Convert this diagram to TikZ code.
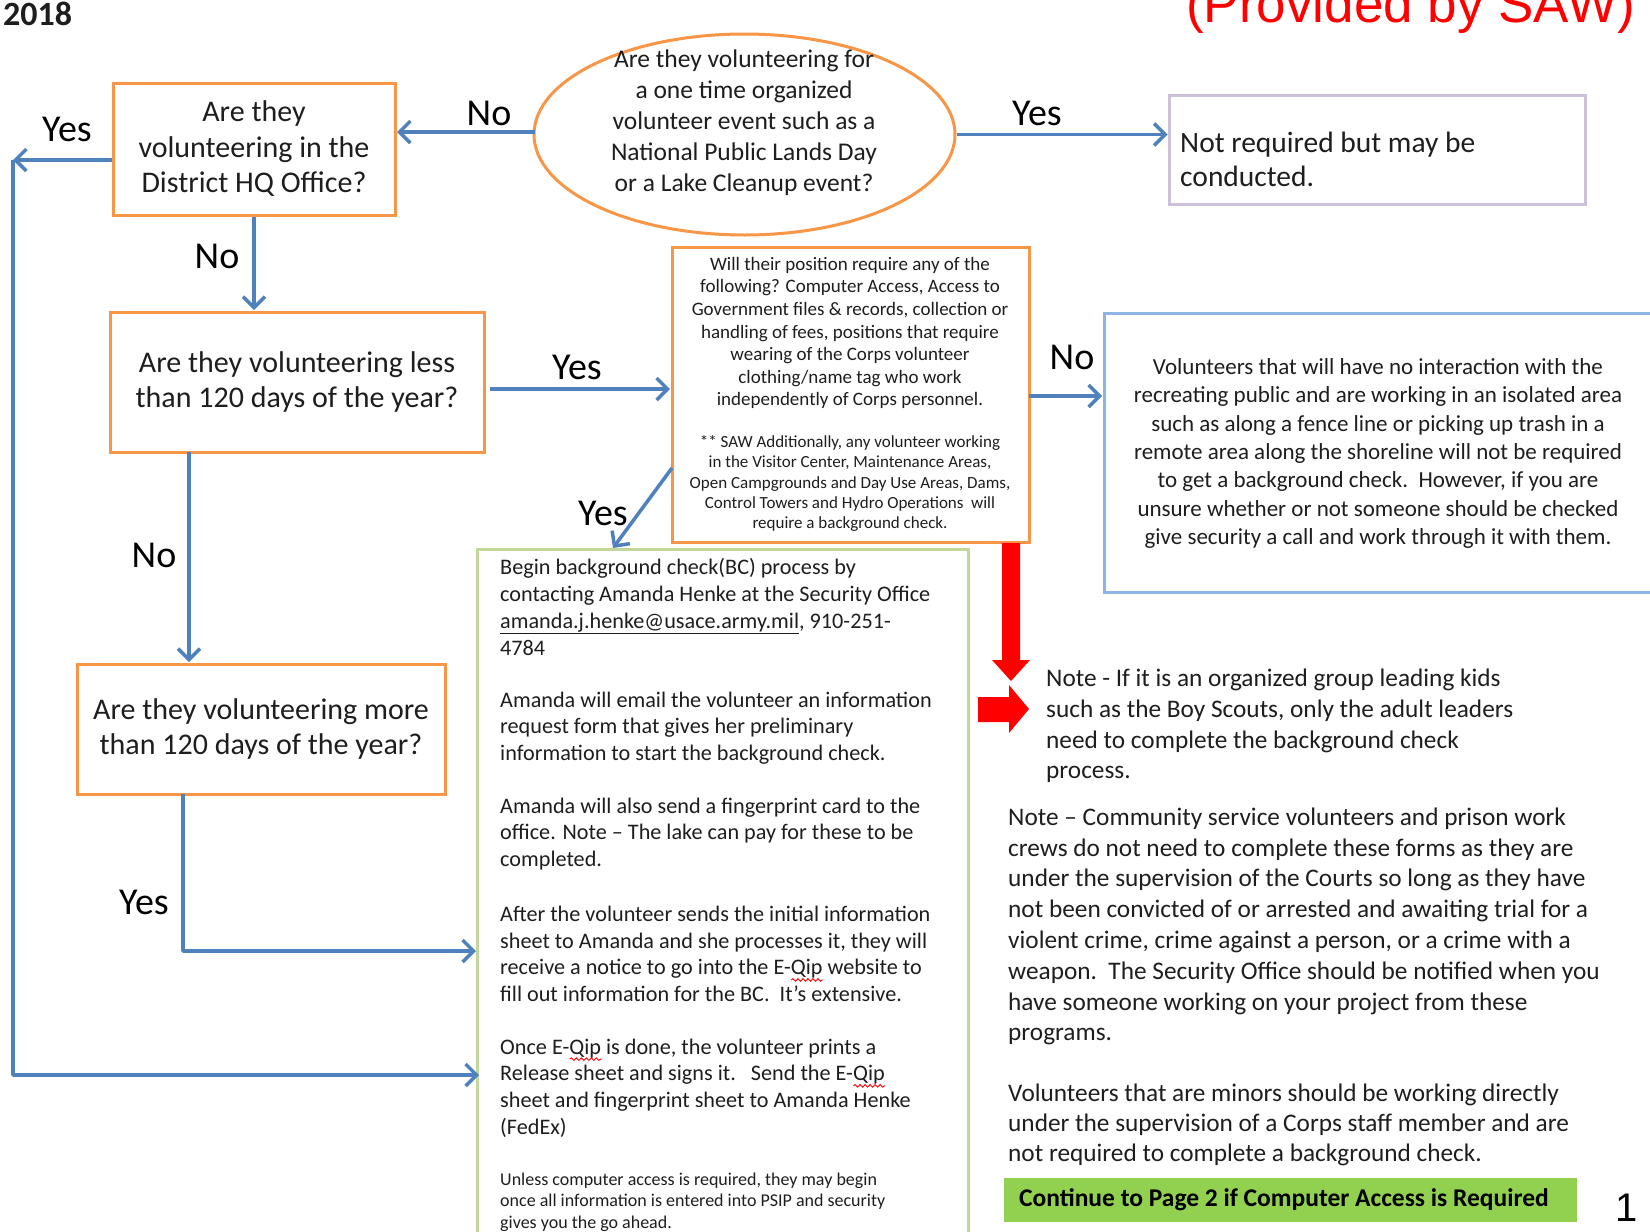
\documentclass[tikz,border=0pt]{standalone}
\usepackage{fontspec}
\setmainfont{Carlito}
\newfontfamily\arialf{Liberation Sans}
\usetikzlibrary{arrows.meta,shapes.geometric,decorations.pathmorphing}
\definecolor{orng}{HTML}{F79646}
\definecolor{blu}{HTML}{4F81BD}
\definecolor{lblu}{HTML}{8EB4E3}
\definecolor{grn}{HTML}{C3D69B}
\definecolor{purp}{HTML}{CCC0DA}
\definecolor{bann}{HTML}{92D050}
\definecolor{txt}{HTML}{1E1E1E}
\newsavebox\sqbox
\newcommand\sq[1]{\sbox\sqbox{#1}\rlap{\tikz[baseline=0pt]\draw[red,line width=0.9pt,decorate,decoration={snake,amplitude=1.3pt,segment length=5pt}] (0pt,-5pt) -- (\wd\sqbox,-5pt);}\usebox\sqbox}
\begin{document}
\begin{tikzpicture}[x=1pt,y=-1pt,
  obox/.style={draw=orng,line width=3pt,rectangle,inner sep=0pt,align=center,text=txt},
  arr/.style={draw=blu,line width=3.5pt,line join=round,-{Straight Barb[length=11pt,width=22pt]}},
  lbl/.style={font=\fontsize{38}{40}\selectfont,text=black,inner sep=0pt},
  tx/.style={inner sep=0pt,text=txt},
  redarrow/.style={fill=red,draw=none}]
\useasboundingbox (0,0) rectangle (1650,1232);
\fill[white] (0,0) rectangle (1650,1232);

% headers
\node[tx,anchor=base west,font=\bfseries\fontsize{34}{36}\selectfont] (year) at (3,25) {2018};
\node[inner sep=0pt,anchor=base west,text=red,font=\arialf\fontsize{53}{55}\selectfont] (prov) at (1186,22) {(Provided by SAW)};

% shapes
\node[draw=orng,line width=3pt,ellipse,minimum width=421pt,minimum height=201pt,inner sep=0pt] (ell) at (744.5,134.5) {};
\node[tx,align=center,font=\fontsize{25.5}{31}\selectfont] (elltx) at (744,123)
  {Are they volunteering for\\a one time organized\\volunteer event such as a\\National Public Lands Day\\or a Lake Cleanup event?};

\node[obox,minimum width=282pt,minimum height=132pt,font=\fontsize{30}{35.5}\selectfont] (hq) at (254,149)
  {Are they\\volunteering in the\\District HQ Office?};

\node[obox,minimum width=374pt,minimum height=140pt,font=\fontsize{30}{35}\selectfont] (b2) at (297,382)
  {Are they volunteering less\\than 120 days of the year?};

\node[obox,minimum width=368pt,minimum height=130pt,font=\fontsize{30}{35}\selectfont] (b4) at (261,729)
  {Are they volunteering more\\than 120 days of the year?};

\node[obox,minimum width=357pt,minimum height=295pt] (dec) at (850.5,394.5) {};
\node[tx,align=center,font=\fontsize{19}{22.6}\selectfont] (dectx1) at (850,333)
  {Will their position require any of the\\following? Computer Access, Access to\\Government files \& records, collection or\\handling of fees, positions that require\\wearing of the Corps volunteer\\clothing/name tag who work\\independently of Corps personnel.};
\node[tx,align=center,font=\fontsize{17}{20.2}\selectfont] (dectx2) at (850,483.5)
  {** SAW Additionally, any volunteer working\\in the Visitor Center, Maintenance Areas,\\Open Campgrounds and Day Use Areas, Dams,\\Control Towers and Hydro Operations\ \ will\\require a background check.};

\node[draw=purp,line width=3pt,rectangle,minimum width=416pt,minimum height=109pt,inner sep=0pt] (pur) at (1377,149.5) {};
\node[tx,anchor=west,align=left,font=\fontsize{29.5}{34}\selectfont] (purtx) at (1180,159)
  {Not required but may be\\conducted.};

\node[draw=lblu,line width=3pt,rectangle,minimum width=556pt,minimum height=279pt,inner sep=0pt] (blue) at (1382,452.5) {};
\node[tx,align=center,font=\fontsize{23}{28.4}\selectfont] (bluetx) at (1378,453.5)
  {Volunteers that will have no interaction with the\\recreating public and are working in an isolated area\\such as along a fence line or picking up trash in a\\remote area along the shoreline will not be required\\to get a background check.\ \ However, if you are\\unsure whether or not someone should be checked\\give security a call and work through it with them.};

\node[draw=grn,line width=3pt,rectangle,minimum width=491pt,minimum height=691pt,inner sep=0pt] (green) at (722.5,894.5) {};
\begin{scope}[every node/.style={tx,anchor=west,align=left,font=\fontsize{22.2}{26.7}\selectfont}]
\node (g1) at (500,607) {Begin background check(BC) process by\\contacting Amanda Henke at the Security Office\\\underline{amanda.j.henke@usace.army.mil}, 910-251-\\4784};
\node (g2) at (500,728) {Amanda will email the volunteer an information\\request form that gives her preliminary\\information to start the background check.};
\node (g3) at (500,834) {Amanda will also send a fingerprint card to the\\office. Note -- The lake can pay for these to be\\completed.};
\node (g4) at (500,954) {After the volunteer sends the initial information\\sheet to Amanda and she processes it, they will\\receive a notice to go into the E-\sq{Qip} website to\\fill out information for the BC.\ \ It’s extensive.};
\node (g5) at (500,1088) {Once E-\sq{Qip} is done, the volunteer prints a\\Release sheet and signs it.\ \ \ Send the E-\sq{Qip}\\sheet and fingerprint sheet to Amanda Henke\\(FedEx)};
\end{scope}
\node[tx,anchor=west,align=left,font=\fontsize{18}{21.5}\selectfont] (g6) at (500,1202)
  {Unless computer access is required, they may begin\\once all information is entered into PSIP and security\\gives you the go ahead.};

% notes
\begin{scope}[every node/.style={tx,anchor=west,align=left,font=\fontsize{25.3}{30.8}\selectfont}]
\node (n1) at (1046,726) {Note - If it is an organized group leading kids\\such as the Boy Scouts, only the adult leaders\\need to complete the background check\\process.};
\node (n2) at (1008,926.5) {Note -- Community service volunteers and prison work\\crews do not need to complete these forms as they are\\under the supervision of the Courts so long as they have\\not been convicted of or arrested and awaiting trial for a\\violent crime, crime against a person, or a crime with a\\weapon.\ \ The Security Office should be notified when you\\have someone working on your project from these\\programs.};
\node[font=\fontsize{25.3}{30}\selectfont] (n3) at (1008,1124.4) {Volunteers that are minors should be working directly\\under the supervision of a Corps staff member and are\\not required to complete a background check.};
\end{scope}

\node[fill=bann,rectangle,minimum width=573pt,minimum height=44pt,inner sep=0pt] (ban) at (1290.5,1200) {};
\node[tx,anchor=west,text=black,font=\bfseries\fontsize{25.5}{28}\selectfont] (bantx) at (1019,1200) {Continue to Page 2 if Computer Access is Required};
\node[inner sep=0pt,anchor=base,font=\arialf\fontsize{40}{42}\selectfont] (pg) at (1627,1221) {1};

% coordinates
\coordinate (c1) at (13,160);
\coordinate (c2) at (479,1075);
\coordinate (c3) at (476,951);
\coordinate (c4) at (183,794);

% blue connectors
\draw[arr] (535,132) -- (397,132);
\draw[arr] (ell.east) -- (ell.east -| pur.west);
\draw[arr] (hq.west |- c1) -- (c1);
\draw[arr] (c1) |- (c2);
\draw[arr] (hq.south) -- (254,310);
\draw[arr] (490,389) -- (670,389);
\draw[arr] (189,452) -- (189,662);
\draw[arr] (c4) |- (c3);
\draw[arr] (1029,396) -- (1102,396);
\draw[arr] (672,468) -- (613,548);

% labels
\node[lbl] (l1) at (67,129) {Yes};
\node[lbl] (l2) at (489,113) {No};
\node[lbl] (l3) at (1037,113) {Yes};
\node[lbl] (l4) at (217,256) {No};
\node[lbl] (l5) at (577,367) {Yes};
\node[lbl] (l6) at (1072,357) {No};
\node[lbl] (l7) at (603,513) {Yes};
\node[lbl] (l8) at (154,555) {No};
\node[lbl] (l9) at (144,902) {Yes};

% red block arrows
\fill[redarrow] (1002,543) -- (1020,543) -- (1020,660) -- (1030,660) -- (1011,681) -- (992,660) -- (1002,660) -- cycle;
\fill[redarrow] (978,697) -- (1009,697) -- (1009,685) -- (1029,709) -- (1009,733) -- (1009,722) -- (978,722) -- cycle;
\end{tikzpicture}
\end{document}
